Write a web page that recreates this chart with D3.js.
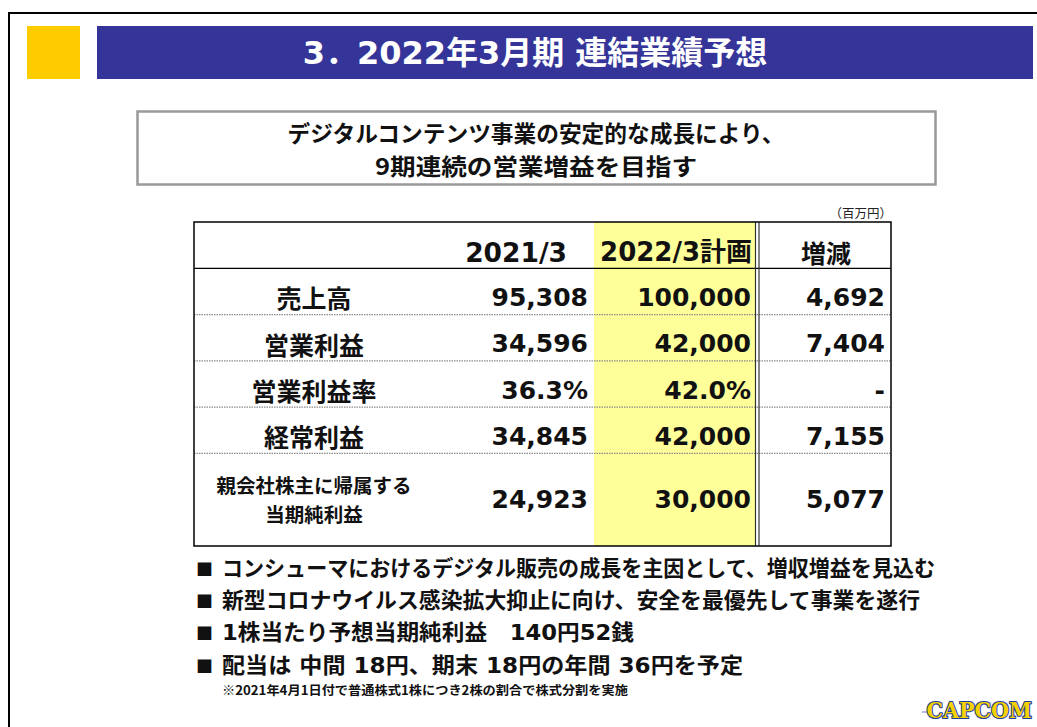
<!DOCTYPE html>
<html><head><meta charset="utf-8">
<script src="https://cdn.jsdelivr.net/npm/d3@7/dist/d3.min.js"></script>
<style>
html,body{margin:0;padding:0;background:#fff;}
svg{display:block;}
</style></head>
<body>
<script>
// ---- data ----
const titleText = "3．2022年3月期 連結業績予想";
const subtitleLines = ["デジタルコンテンツ事業の安定的な成長により、", "9期連続の営業増益を目指す"];
const unitLabel = "（百万円）";
const columnHeaders = ["2021/3", "2022/3計画", "増減"];
const rowLabels = [["売上高"], ["営業利益"], ["営業利益率"], ["経常利益"], ["親会社株主に帰属する", "当期純利益"]];
const actual2021 = [95308, 34596, 36.3, 34845, 24923];
const plan2022 = [100000, 42000, 42.0, 42000, 30000];
const change = [4692, 7404, null, 7155, 5077];
const rateRow = [false, false, true, false, false];
const rowSpan = [1, 1, 1, 1, 2];
const bullets = [
  "コンシューマにおけるデジタル販売の成長を主因として、増収増益を見込む",
  "新型コロナウイルス感染拡大抑止に向け、安全を最優先して事業を遂行",
  "1株当たり予想当期純利益\u3000140円52銭",
  "配当は 中間 18円、期末 18円の年間 36円を予定"
];
const footnote = "※2021年4月1日付で普通株式1株につき2株の割合で株式分割を実施";
const logoText = "CAPCOM";

// ---- drawing ----
const W = 1037, H = 727;
const svg = d3.select("body").append("svg").attr("width", W).attr("height", H);
const JP = "'Noto Sans CJK JP', sans-serif";
const NUM = "'DejaVu Sans', 'Noto Sans CJK JP', sans-serif";

// frame
svg.append("line").attr("x1", 8).attr("x2", W).attr("y1", 13).attr("y2", 13).attr("stroke", "#000").attr("stroke-width", 2);
svg.append("line").attr("x1", 9).attr("x2", 9).attr("y1", 12).attr("y2", H).attr("stroke", "#000").attr("stroke-width", 2);

// title bar
svg.append("rect").attr("x", 27).attr("y", 26).attr("width", 53).attr("height", 53).attr("fill", "#FFCC00");
svg.append("rect").attr("x", 97).attr("y", 26).attr("width", 936).attr("height", 53).attr("fill", "#353599");
svg.append("text").attr("x", 535).attr("y", 53).attr("text-anchor", "middle").attr("dominant-baseline", "central")
  .attr("font-family", NUM).attr("font-weight", "bold").attr("font-size", 32).attr("fill", "#fff").text(titleText);

// subtitle box
svg.append("rect").attr("x", 137.5).attr("y", 111.5).attr("width", 798).attr("height", 73)
  .attr("fill", "#fff").attr("stroke", "#999").attr("stroke-width", 2.5);
const subLens = [497, 322];
svg.selectAll("text.sub").data(subtitleLines).join("text").attr("class", "sub")
  .attr("x", 536).attr("y", (d, i) => 132 + i * 32.5).attr("text-anchor", "middle").attr("dominant-baseline", "central")
  .attr("font-family", JP).attr("font-weight", "bold").attr("font-size", 22.4).attr("fill", "#111")
  .attr("textLength", (d, i) => subLens[i]).attr("lengthAdjust", "spacingAndGlyphs")
  .text(d => d);

// unit label
svg.append("text").attr("x", 892).attr("y", 212).attr("text-anchor", "end").attr("dominant-baseline", "central")
  .attr("font-family", JP).attr("font-size", 12.5).attr("fill", "#222").text(unitLabel);

// table
const unitsTotal = 1 + d3.sum(rowSpan);
const y = d3.scaleLinear().domain([0, unitsTotal]).range([222, 546]);
const rowStart = rowSpan.map((s, i) => 1 + d3.sum(rowSpan.slice(0, i)));
const X = { left: 194, labelC: 314, c1: 588, yelL: 594, c2: 751, dblA: 755.5, dblB: 759, c3: 885, right: 891 };

svg.append("rect").attr("x", X.yelL).attr("y", y(0)).attr("width", X.dblA - X.yelL).attr("height", y(unitsTotal) - y(0)).attr("fill", "#FFFF99");

// row dotted separators
rowStart.slice(1).forEach(u => {
  svg.append("line").attr("x1", X.left).attr("x2", X.right).attr("y1", y(u)).attr("y2", y(u))
    .attr("stroke", "#8a8a8a").attr("stroke-width", 1.2).attr("stroke-dasharray", "1.5,1");
});
// header separator
svg.append("line").attr("x1", X.left).attr("x2", X.right).attr("y1", y(1)).attr("y2", y(1)).attr("stroke", "#000").attr("stroke-width", 1.3);
// double vertical
[X.dblA, X.dblB].forEach(xx => svg.append("line").attr("x1", xx).attr("x2", xx).attr("y1", y(0)).attr("y2", y(unitsTotal))
  .attr("stroke", "#333").attr("stroke-width", 1.2));
// outer border
svg.append("rect").attr("x", X.left).attr("y", y(0)).attr("width", X.right - X.left).attr("height", y(unitsTotal) - y(0))
  .attr("fill", "none").attr("stroke", "#000").attr("stroke-width", 1.5);

// header texts
const hy = (y(0) + y(1)) / 2 + 7;
svg.append("text").attr("x", 567).attr("y", hy).attr("text-anchor", "end").attr("dominant-baseline", "central")
  .attr("font-family", NUM).attr("font-weight", "bold").attr("font-size", 26.5).attr("fill", "#111").text(columnHeaders[0]);
svg.append("text").attr("x", 752).attr("y", hy).attr("text-anchor", "end").attr("dominant-baseline", "central")
  .attr("font-family", NUM).attr("font-weight", "bold").attr("font-size", 26).attr("fill", "#111").text(columnHeaders[1]);
svg.append("text").attr("x", 826).attr("y", hy).attr("text-anchor", "middle").attr("dominant-baseline", "central")
  .attr("font-family", JP).attr("font-weight", "bold").attr("font-size", 25).attr("fill", "#111").text(columnHeaders[2]);

const fmtN = d3.format(",");
const fmtR = d3.format(".1f");
const fmt = (v, i) => v == null ? "-" : (rateRow[i] ? fmtR(v) + "%" : fmtN(v));

rowLabels.forEach((lab, i) => {
  const cy = (y(rowStart[i]) + y(rowStart[i] + rowSpan[i])) / 2 + (rowSpan[i] === 1 ? 6 : 0);
  if (lab.length === 1) {
    svg.append("text").attr("x", X.labelC).attr("y", cy).attr("text-anchor", "middle").attr("dominant-baseline", "central")
      .attr("font-family", JP).attr("font-weight", "bold").attr("font-size", 25).attr("fill", "#111").text(lab[0]);
  } else {
    lab.forEach((l, k) => svg.append("text").attr("x", X.labelC).attr("y", cy - 15 + k * 29).attr("text-anchor", "middle")
      .attr("dominant-baseline", "central").attr("font-family", JP).attr("font-weight", "bold").attr("font-size", 19.5)
      .attr("fill", "#111").text(l));
  }
  [[actual2021, X.c1], [plan2022, X.c2], [change, X.c3]].forEach(([arr, xx]) => {
    svg.append("text").attr("x", xx).attr("y", cy).attr("text-anchor", "end").attr("dominant-baseline", "central")
      .attr("font-family", NUM).attr("font-weight", "bold").attr("font-size", 25).attr("fill", "#111").text(fmt(arr[i], i));
  });
});

// bullets
const by = [568, 600, 632, 665];
const bulletLens = [713, 698, 412, 521];
bullets.forEach((b, i) => {
  svg.append("text").attr("x", 196).attr("y", by[i]).attr("dominant-baseline", "central")
    .attr("font-family", JP).attr("font-size", 17).attr("fill", "#111").text("■");
  svg.append("text").attr("x", 222).attr("y", by[i]).attr("dominant-baseline", "central")
    .attr("font-family", NUM).attr("font-weight", "bold").attr("font-size", 21.6).attr("fill", "#111")
    .attr("textLength", bulletLens[i]).attr("lengthAdjust", "spacingAndGlyphs").text(b);
});
svg.append("text").attr("x", 222).attr("y", 689).attr("dominant-baseline", "central")
  .attr("font-family", JP).attr("font-weight", "bold").attr("font-size", 12.5).attr("fill", "#111")
  .attr("textLength", 406).attr("lengthAdjust", "spacingAndGlyphs").text(footnote);

// logo
svg.append("line").attr("x1", 922).attr("x2", 932).attr("y1", 712).attr("y2", 712).attr("stroke", "#7070e0").attr("stroke-width", 1);
svg.append("g").attr("transform", "translate(1032,718) scale(0.9,1)")
  .append("text").attr("x", 0).attr("y", 0).attr("text-anchor", "end").attr("font-family", "'DejaVu Serif', serif").attr("font-weight", "bold")
  .attr("font-size", 23)
  .attr("fill", "#F5D000").attr("stroke", "#1C3C9C").attr("stroke-width", 2.2).attr("paint-order", "stroke")
  .attr("stroke-linejoin", "round").text(logoText);
</script>
</body></html>
